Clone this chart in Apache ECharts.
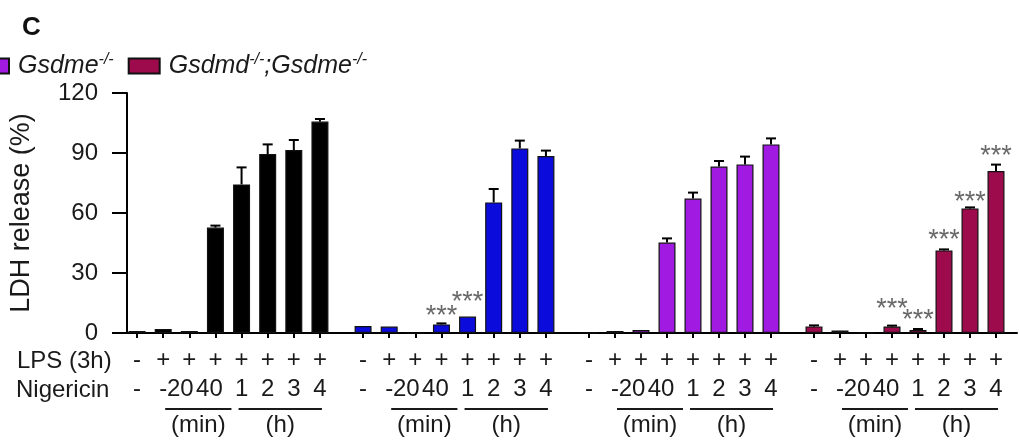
<!DOCTYPE html>
<html>
<head>
<meta charset="utf-8">
<script src="https://cdn.jsdelivr.net/npm/echarts@6/dist/echarts.min.js"></script>
<style>html,body{margin:0;padding:0;background:#fff}#c{width:1019px;height:440px}</style>
</head>
<body>
<div id="c"></div>
<script>
// ---- data ----
const groupNames = ['WT', 'Gsdmd-/-', 'Gsdme-/-', 'Gsdmd-/-;Gsdme-/-'];
const lpsLabels = ['-', '+', '+', '+', '+', '+', '+', '+'];
const nigLabels = ['-', '-', '20', '40', '1', '2', '3', '4'];
const yTicks = [0, 30, 60, 90, 120];
const wtMean = [1, 2, 1, 52.7, 74.3, 89.5, 91.5, 105.7];
const wtErr = [0.3, 0.3, 0.3, 1, 8.5, 4.8, 5, 1.3];
const gsdmdMean = [3.5, 3.2, 0, 4.3, 8.2, 65.3, 92.3, 88.5];
const gsdmdErr = [0.3, 0, 0, 0.5, 0.3, 6.7, 3.9, 2.7];
const gsdmeMean = [0, 1, 1.5, 45.2, 67.2, 83.2, 84.3, 94.3];
const gsdmeErr = [0, 0, 0.3, 2.1, 3, 2.8, 3.9, 3];
const dkoMean = [3.3, 1.2, 0, 3.2, 1.5, 41.3, 62.3, 81];
const dkoErr = [0.5, 0.3, 0, 0.5, 0.5, 0.5, 0.5, 3.2];
const wtStars = [null, null, null, null, null, null, null, null];
const gsdmdStars = [null, null, null, 11.5, 18.5, null, null, null];
const gsdmeStars = [null, null, null, null, null, null, null, null];
const dkoStars = [null, null, null, 15.3, 9.8, 49.5, 68.7, 91.5];

const means = [wtMean, gsdmdMean, gsdmeMean, dkoMean];
const errs = [wtErr, gsdmdErr, gsdmeErr, dkoErr];
const stars = [wtStars, gsdmdStars, gsdmeStars, dkoStars];

// ---- style ----
const FONT = '"Liberation Sans", Arial, sans-serif';
const TXT = '#1a1a1a';
const colors = ['#000000', '#0b0bdc', '#a01ae2', '#9e0b4c'];
const gridLefts = [124, 350, 576, 801];
const gridWidths = [209, 209, 208, 208];
const TOP = 93, H = 240;
const nigShift = {'20': 18, '40': 12};
const FS = 24;

const chart = echarts.init(document.getElementById('c'), null, {renderer: 'canvas'});

const grids = [{left: 123, right: 2, top: TOP, height: H}];
const xAxes = [{type: 'value', gridIndex: 0, min: 0, max: 1, axisLine: {show: true, lineStyle: {color: '#000', width: 2}}, axisTick: {show: false}, axisLabel: {show: false}, splitLine: {show: false}}];
const yAxes = [{
  type: 'value', gridIndex: 0, min: yTicks[0], max: yTicks[yTicks.length - 1], interval: 30,
  axisLine: {show: true, lineStyle: {color: '#000', width: 2}},
  axisTick: {show: true, length: 15, lineStyle: {color: '#000', width: 2}},
  axisLabel: {fontSize: FS, margin: 29, color: TXT, fontFamily: FONT},
  splitLine: {show: false},
  name: 'LDH release (%)', nameLocation: 'middle', nameRotate: 90, nameGap: 92,
  nameTextStyle: {fontSize: 27, color: TXT, fontFamily: FONT}
}];
const rich = {
  p: {fontSize: FS, lineHeight: 29, color: TXT, fontFamily: FONT},
  n: {fontSize: FS, lineHeight: 29, color: TXT, fontFamily: FONT}
};
Object.keys(nigShift).forEach((k, j) => {
  rich['s' + j] = {fontSize: FS, lineHeight: 29, color: TXT, fontFamily: FONT, padding: [0, nigShift[k], 0, 0]};
});
const series = [];

for (let g = 0; g < 4; g++) {
  grids.push({left: gridLefts[g], width: gridWidths[g], top: TOP, height: H});
  xAxes.push({
    type: 'category', gridIndex: g + 1, data: lpsLabels.map((l, i) => i),
    axisLine: {show: false},
    axisTick: {show: true, alignWithLabel: true, length: 5, lineStyle: {color: '#000', width: 2}},
    axisLabel: {
      interval: 0, margin: 13,
      formatter: (v, i) => {
        const n = nigLabels[i];
        const keys = Object.keys(nigShift);
        const st = keys.indexOf(n) >= 0 ? 's' + keys.indexOf(n) : 'n';
        return '{p|' + lpsLabels[i] + '}\n{' + st + '|' + n + '}';
      },
      rich: rich
    },
    splitLine: {show: false}
  });
  yAxes.push({type: 'value', gridIndex: g + 1, min: 0, max: 120, show: false, splitLine: {show: false}});
  series.push({
    name: groupNames[g], type: 'bar', xAxisIndex: g + 1, yAxisIndex: g + 1,
    data: means[g], barWidth: 17,
    itemStyle: {color: colors[g], borderColor: '#111', borderWidth: 1.2},
    z: 2
  });
  series.push({
    type: 'custom', xAxisIndex: g + 1, yAxisIndex: g + 1, z: 3,
    data: means[g].map((m, i) => [i, m, m + errs[g][i]]),
    renderItem: (params, api) => {
      const p0 = api.coord([api.value(0), api.value(1)]);
      const p1 = api.coord([api.value(0), api.value(2)]);
      if (p0[1] - p1[1] < 1) return null;
      const st = {stroke: '#000', lineWidth: 2};
      return {type: 'group', children: [
        {type: 'line', shape: {x1: p0[0], y1: p0[1], x2: p1[0], y2: p1[1]}, style: st},
        {type: 'line', shape: {x1: p1[0] - 5, y1: p1[1], x2: p1[0] + 5, y2: p1[1]}, style: st}
      ]};
    }
  });
  series.push({
    type: 'scatter', xAxisIndex: g + 1, yAxisIndex: g + 1, z: 4,
    data: stars[g].map((s, i) => s == null ? null : [i, s]),
    symbolSize: 1, itemStyle: {color: 'rgba(0,0,0,0)'}, silent: true,
    label: {show: true, position: 'inside', formatter: '***', fontSize: 27, color: '#444', fontFamily: FONT, offset: [0, 7]}
  });
}

const legendFmt = name => name.split('-/-').map((p, i, a) => (p ? '{i|' + p + '}' : '') + (i < a.length - 1 ? '{s|-/-}' : '')).join('');

chart.setOption({
  animation: false,
  backgroundColor: '#fff',
  grid: grids, xAxis: xAxes, yAxis: yAxes, series: series,
  legend: {
    data: [groupNames[2], groupNames[3]],
    left: -28, top: 47, itemWidth: 31, itemHeight: 15, itemGap: 14, icon: 'rect',
    formatter: legendFmt,
    textStyle: {
      padding: [0, 0, 0, 4],
      rich: {
        i: {fontSize: 25, fontStyle: 'italic', color: TXT, fontFamily: FONT, lineHeight: 28},
        s: {fontSize: 16, fontStyle: 'italic', color: TXT, fontFamily: FONT, verticalAlign: 'top', lineHeight: 16}
      }
    }
  }
});

// annotations computed from axis positions
const gfx = [
  {type: 'text', left: 22, top: 15, style: {text: 'C', font: 'bold 26px ' + FONT, fill: '#111'}},
  {type: 'text', x: 17, y: 361, style: {text: 'LPS (3h)', font: FS + 'px ' + FONT, fill: TXT, textVerticalAlign: 'middle'}},
  {type: 'text', x: 16, y: 390, style: {text: 'Nigericin', font: FS + 'px ' + FONT, fill: TXT, textVerticalAlign: 'middle'}}
];
for (let g = 0; g < 4; g++) {
  const px = i => chart.convertToPixel({xAxisIndex: g + 1}, i);
  const m0 = px(1) + 2, m1 = px(3) + 16;
  const h0 = px(4) - 3, h1 = px(7) + 2;
  const ls = {stroke: TXT, lineWidth: 2};
  gfx.push({type: 'line', shape: {x1: m0, y1: 409, x2: m1, y2: 409}, style: ls});
  gfx.push({type: 'line', shape: {x1: h0, y1: 409, x2: h1, y2: 409}, style: ls});
  gfx.push({type: 'text', x: (m0 + m1) / 2, y: 425, style: {text: '(min)', font: FS + 'px ' + FONT, fill: TXT, textAlign: 'center', textVerticalAlign: 'middle'}});
  gfx.push({type: 'text', x: (h0 + h1) / 2, y: 425, style: {text: '(h)', font: FS + 'px ' + FONT, fill: TXT, textAlign: 'center', textVerticalAlign: 'middle'}});
}
chart.setOption({graphic: gfx});
</script>
</body>
</html>
